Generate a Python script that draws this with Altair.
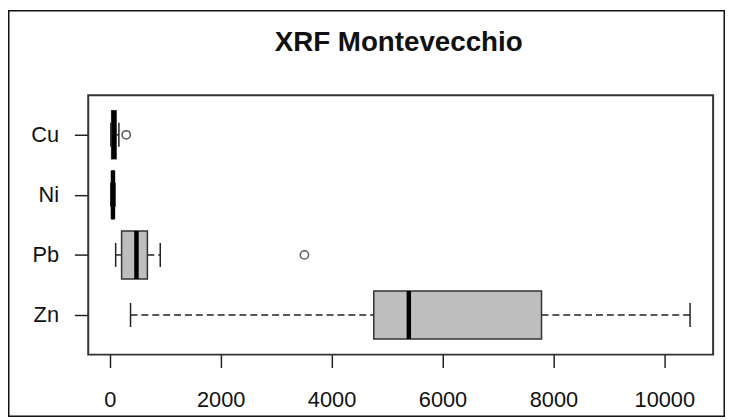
import altair as alt
import pandas as pd

title_text = "XRF Montevecchio"
categories = ["Zn", "Pb", "Ni", "Cu"]          # bottom to top
positions = [1, 2, 3, 4]
whisker_lo = [375, 107, 20, 20]
q1 = [4761, 214, 40, 35]
median = [5393, 482, 58, 75]
q3 = [7786, 679, 75, 115]
whisker_hi = [10464, 911, 95, 165]
outlier_cat = ["Pb", "Cu"]
outlier_pos = [2, 4]
outlier_val = [3511, 297]
x_ticks = [0, 2000, 4000, 6000, 8000, 10000]

df = pd.DataFrame({"cat": categories, "pos": positions, "lo": whisker_lo,
                   "q1": q1, "med": median, "q3": q3, "hi": whisker_hi})
out = pd.DataFrame({"cat": outlier_cat, "pos": outlier_pos, "val": outlier_val})

W, H = 631, 262
PL, PT, PR, PB = 81, 86, 12, 63
FONT = "Liberation Sans"

xs = alt.Scale(domain=[-388, 10880], nice=False, zero=False)
ys = alt.Scale(domain=[0.34, 4.66], nice=False, zero=False)

label_expr = "[" + ",".join("'%s'" % c for c in categories) + "][datum.value-1]"

xaxis = alt.Axis(values=x_ticks, title=None, grid=False, domain=False, ticks=True,
                 tickSize=13, tickColor="#222", tickWidth=1.5, labelFont=FONT,
                 labelFontSize=22, labelColor="#111", labelPadding=22, format="d")
yaxis = alt.Axis(values=positions, labelExpr=label_expr, title=None, grid=False,
                 domain=False, tickSize=14, tickColor="#222", tickWidth=1.5,
                 labelFont=FONT, labelFontSize=22, labelColor="#111", labelPadding=16)

base = alt.Chart(df)

lower_wh = base.mark_rule(color="#222", strokeWidth=1.5, strokeDash=[7, 4]).encode(
    x=alt.X("lo:Q", scale=xs, axis=xaxis), x2="q1:Q",
    y=alt.Y("pos:Q", scale=ys, axis=yaxis))
upper_wh = base.mark_rule(color="#222", strokeWidth=1.5, strokeDash=[7, 4]).encode(
    x=alt.X("q3:Q", scale=xs), x2="hi:Q", y=alt.Y("pos:Q", scale=ys))

caps = base.transform_fold(["lo", "hi"], as_=["k", "v"]).transform_calculate(
    y1="datum.pos-0.2", y2="datum.pos+0.2").mark_rule(color="#222", strokeWidth=1.5).encode(
    x=alt.X("v:Q", scale=xs), y=alt.Y("y1:Q", scale=ys), y2="y2:Q")

boxes = base.transform_calculate(y1="datum.pos-0.4", y2="datum.pos+0.4").mark_rect(
    fill="#BEBEBE", stroke="#333", strokeWidth=1.5).encode(
    x=alt.X("q1:Q", scale=xs), x2="q3:Q", y=alt.Y("y1:Q", scale=ys), y2="y2:Q")

meds = base.transform_calculate(y1="datum.pos-0.4", y2="datum.pos+0.4").mark_rule(
    color="black", strokeWidth=4.5).encode(
    x=alt.X("med:Q", scale=xs), y=alt.Y("y1:Q", scale=ys), y2="y2:Q")

pts = alt.Chart(out).mark_point(shape="circle", size=70, filled=False, color="#111",
                                strokeWidth=1.5).encode(
    x=alt.X("val:Q", scale=xs), y=alt.Y("pos:Q", scale=ys))

title = alt.Chart(pd.DataFrame({"t": [title_text]})).mark_text(
    font=FONT, fontSize=28, fontWeight="bold", color="#111", baseline="alphabetic",
    align="center").encode(text="t:N", x=alt.value(W / 2 - 2), y=alt.value(-44.5))

frame = alt.Chart(pd.DataFrame({"a": [0]})).mark_rect(
    fill=None, stroke="#111", strokeWidth=1.5).encode(
    x=alt.value(-PL + 0.75), x2=alt.value(W + PR - 0.75),
    y=alt.value(-PT + 0.75), y2=alt.value(H + PB - 0.75))

chart = alt.layer(frame, lower_wh, upper_wh, caps, boxes, meds, pts, title).properties(
    width=W, height=H,
    autosize=alt.AutoSizeParams(type="none"),
    padding={"left": PL, "top": PT, "right": PR, "bottom": PB},
    background="white",
).configure_view(stroke="#333", strokeWidth=2)

chart.save("out.html", embed_options={"renderer": "svg", "actions": False})
